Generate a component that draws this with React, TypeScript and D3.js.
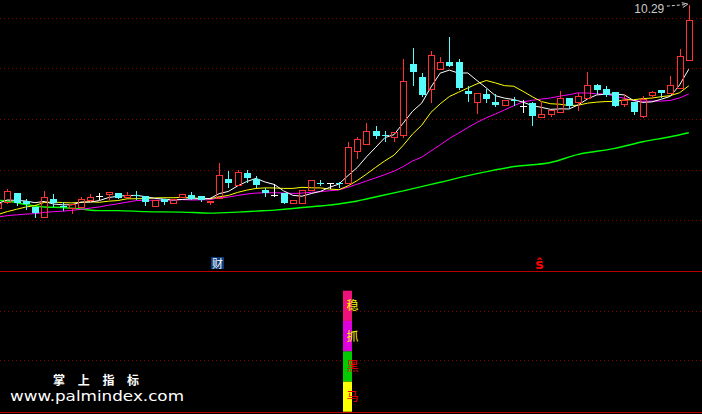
import React from 'react';
import * as d3 from 'd3';

const W = 702;
const H = 414;

// daily candles (first one is partially cut at the left edge)
const opens = [6.25, 6.36, 6.55, 6.39, 6.28, 6.08, 6.43, 6.30, 6.26, 6.28, 6.41, 6.49, 6.52, 6.55, 6.46, 6.51, 6.49, 6.30, 6.43, 6.35, 6.47,
  6.51, 6.49, 6.37, 6.45, 6.83, 6.70, 6.95, 6.83, 6.61, 6.51, 6.54, 6.35, 6.34, 6.61, 6.74, 6.74, 6.74, 6.74, 7.37, 7.51,
  7.78, 7.70, 7.65, 7.69, 9.10, 8.84, 8.61, 8.99, 9.13, 9.13, 8.57, 8.34, 8.51, 8.35, 8.28, 8.38, 8.27, 8.32, 8.05, 8.10,
  8.14, 8.42, 8.34, 8.42, 8.69, 8.61, 8.54, 8.30, 8.35, 8.06, 8.49, 8.59, 8.52, 8.62, 9.17];
const highs = [6.37, 6.64, 6.57, 6.45, 6.29, 6.61, 6.55, 6.39, 6.35, 6.49, 6.55, 6.57, 6.57, 6.55, 6.59, 6.61, 6.51, 6.40, 6.45, 6.45, 6.53,
  6.58, 6.49, 6.40, 7.16, 7.01, 7.02, 7.03, 6.91, 6.66, 6.74, 6.54, 6.41, 6.61, 6.83, 6.82, 6.77, 6.79, 7.57, 7.68, 7.95,
  7.90, 7.80, 7.75, 9.21, 9.44, 8.93, 9.38, 9.25, 9.65, 9.21, 8.69, 8.55, 8.62, 8.52, 8.39, 8.47, 8.40, 8.36, 8.39, 8.21,
  8.59, 8.42, 8.54, 8.96, 8.73, 8.69, 8.55, 8.52, 8.35, 8.49, 8.59, 8.59, 8.88, 9.41, 10.29];
const lows = [6.22, 6.35, 6.31, 6.24, 6.08, 6.08, 6.30, 6.22, 6.16, 6.28, 6.39, 6.43, 6.43, 6.45, 6.46, 6.43, 6.31, 6.30, 6.33, 6.35, 6.47,
  6.43, 6.38, 6.33, 6.45, 6.66, 6.70, 6.76, 6.66, 6.48, 6.49, 6.34, 6.35, 6.34, 6.61, 6.71, 6.65, 6.66, 6.74, 7.24, 7.51,
  7.63, 7.57, 7.58, 7.65, 8.69, 8.47, 8.34, 8.99, 9.06, 8.60, 8.36, 8.13, 8.34, 8.26, 8.28, 8.28, 8.14, 7.89, 8.05, 8.06,
  8.14, 8.23, 8.18, 8.42, 8.52, 8.47, 8.26, 8.26, 8.11, 8.05, 8.45, 8.45, 8.52, 8.62, 9.17];
const closes = [6.35, 6.59, 6.35, 6.33, 6.16, 6.47, 6.34, 6.27, 6.33, 6.43, 6.47, 6.49, 6.57, 6.45, 6.51, 6.48, 6.37, 6.40, 6.37, 6.43, 6.53,
  6.43, 6.41, 6.39, 6.91, 6.75, 6.97, 6.85, 6.70, 6.55, 6.51, 6.34, 6.41, 6.61, 6.81, 6.73, 6.74, 6.73, 7.45, 7.61, 7.78,
  7.68, 7.69, 7.75, 8.76, 8.93, 8.49, 9.27, 9.13, 9.06, 8.63, 8.51, 8.52, 8.41, 8.28, 8.39, 8.37, 8.27, 8.06, 8.11, 8.19,
  8.42, 8.26, 8.47, 8.69, 8.59, 8.49, 8.27, 8.39, 8.14, 8.40, 8.54, 8.53, 8.68, 9.26, 9.96];

// closes of the 19 sessions before the first drawn candle (for the moving averages)
const preCloses = [6.03, 6.05, 6.02, 5.98, 6.00, 6.04, 6.06, 6.03, 5.99, 6.01, 6.02, 5.90, 5.88, 5.87, 5.85, 6.25, 6.40, 6.38, 6.33];

// long moving average (green) at these candle indices
const longMaDays = [0, 1, 3, 5, 7, 9, 11, 13, 16, 20, 23, 26, 28, 30, 32, 33, 35, 36, 37, 38, 39, 40, 44, 48, 52, 56, 60, 63, 67, 70, 73, 75];
const longMaValues = [6.40, 6.39, 6.32, 6.27, 6.26, 6.23, 6.20, 6.20, 6.18, 6.17, 6.15, 6.17, 6.19, 6.21, 6.24, 6.26, 6.29, 6.31, 6.33, 6.36, 6.39, 6.43, 6.59, 6.76, 6.93, 7.07, 7.15, 7.31, 7.43, 7.56, 7.66, 7.74];

const gridPrices = [6, 7, 8, 9, 10];
const highLabel = '10.29';
const highDay = 75;

const markerCaiDay = 24;
const markerCaiText = '财';
const markerSDay = 59;
const markerSText = 'ŝ';

const signalDay = 38;
const signalLabels = ['马', '黑', '抓', '稳']; // bottom to top
const subGrid = [1.69, 3.31];

const watermarkTitle = ['掌', '上', '指', '标'];
const watermarkUrl = 'www.palmindex.com';

const RED = '#ff3232';
const CYAN = '#54fcfc';
const GRID = '#8a0000';
const SEP = '#b80000';
const segColors = ['#ffff00', '#00cc00', '#dd00dd', '#f0107a'];
const segTextColors = ['#ff0000', '#ff0000', '#ffff00', '#ffff00'];

const allCloses = [...preCloses, ...closes];
function movingAverage(n: number): number[] {
  return closes.map((_, k) => {
    const end = k + preCloses.length;
    return d3.mean(allCloses.slice(end - n + 1, end + 1)) as number;
  });
}

export default function App() {
  const x = d3.scaleLinear().domain([0, 75]).range([-1.9, 688.8]);
  const y = d3.scaleLinear().domain([6, 10]).range([220.7, 18.3]);
  const sub = d3.scaleLinear().domain([0, 4]).range([411.7, 290.7]);

  const ma5 = movingAverage(5);
  const ma10 = movingAverage(10);
  const ma20 = movingAverage(20);

  const line = d3.line<number>().x((_, i) => x(i)).y((v) => y(v));
  const longLine = d3
    .line<number>()
    .x((_, i) => x(longMaDays[i]))
    .y((v) => y(v))
    .curve(d3.curveMonotoneX);

  const px = (v: number) => Math.round(v) + 0.5;

  const candles = closes.map((c, k) => {
    const o = opens[k];
    const cx = px(x(k));
    const yh = px(y(highs[k]));
    const yl = px(y(lows[k]));
    if (c > o) {
      const top = px(y(c));
      const bot = px(y(o));
      return (
        <g key={k} stroke={RED} fill="none">
          <line x1={cx} x2={cx} y1={yh} y2={top} />
          <line x1={cx} x2={cx} y1={bot} y2={yl} />
          <rect x={cx - 3} y={top} width={6} height={Math.max(1, bot - top)} />
        </g>
      );
    } else if (c < o) {
      const top = Math.round(y(o));
      const bot = Math.round(y(c));
      return (
        <g key={k}>
          <line x1={cx} x2={cx} y1={yh} y2={yl} stroke={CYAN} />
          <rect x={cx - 3.5} y={top} width={7} height={Math.max(1, bot - top)} fill={CYAN} />
        </g>
      );
    }
    const yo = px(y(o));
    return (
      <g key={k} stroke="#ffffff">
        <line x1={cx} x2={cx} y1={yh} y2={yl} />
        <line x1={cx - 3.5} x2={cx + 3.5} y1={yo} y2={yo} />
      </g>
    );
  });

  const hx = x(highDay);
  const hy = y(highs[highDay]);
  const caiX = Math.round(x(markerCaiDay)) - 8;
  const sigX = Math.round(x(signalDay));

  return (
    <svg
      width={W}
      height={H}
      style={{ position: 'absolute', left: 0, top: 0, display: 'block' }}
      fontFamily="'Liberation Sans', Arial, sans-serif"
    >
      <rect x={0} y={0} width={W} height={H} fill="#000000" />
      {gridPrices.map((p) => (
        <line key={p} x1={0} x2={W} y1={Math.floor(y(p)) + 0.5} y2={Math.floor(y(p)) + 0.5} stroke={GRID} strokeDasharray="1 3" shapeRendering="crispEdges" />
      ))}
      {subGrid.map((v) => (
        <line key={v} x1={0} x2={W} y1={Math.floor(sub(v)) + 0.5} y2={Math.floor(sub(v)) + 0.5} stroke={GRID} strokeDasharray="1 3" shapeRendering="crispEdges" />
      ))}
      <line x1={0} x2={W} y1={271.5} y2={271.5} stroke={SEP} />
      <line x1={0} x2={W} y1={412.5} y2={412.5} stroke={SEP} />

      <path d={longLine(longMaValues) || ''} fill="none" stroke="#00ff00" strokeWidth={1.4} />
      <path d={line(ma20) || ''} fill="none" stroke="#ff00ff" strokeWidth={1} />
      <path d={line(ma10) || ''} fill="none" stroke="#ffff00" strokeWidth={1} />
      <path d={line(ma5) || ''} fill="none" stroke="#ffffff" strokeWidth={1} />

      <g shapeRendering="crispEdges">{candles}</g>

      <text x={hx - 24.5} y={hy + 9} fontSize={13} fill="#c8c8c8" textAnchor="end" textLength={30} lengthAdjust="spacingAndGlyphs">
        {highLabel}
      </text>
      <path d={`M${hx - 22},${hy + 2.5} L${hx - 4},${hy + 1}`} stroke="#d0d0d0" strokeDasharray="3 2" fill="none" />
      <path d={`M${hx - 7},${hy - 1} L${hx - 1},${hy + 0.5} L${hx - 6},${hy + 4}`} stroke="#d0d0d0" fill="none" />

      <rect x={caiX} y={257} width={13} height={12} fill="#0c3a78" />
      <text x={caiX + 6.5} y={267.5} fontSize={11} fill="#ffffff" textAnchor="middle" fontFamily="'Noto Sans CJK SC', sans-serif">
        {markerCaiText}
      </text>
      <text x={x(markerSDay) - 2} y={269} fontSize={14} fontWeight="bold" fill="#ff0000" textAnchor="middle" fontFamily="'DejaVu Sans', sans-serif">
        {markerSText}
      </text>

      {signalLabels.map((t, i) => (
        <g key={t}>
          <rect x={sigX - 5} y={sub(i + 1)} width={9} height={sub(i) - sub(i + 1)} fill={segColors[i]} />
          <text
            x={sigX + 4.5}
            y={(sub(i) + sub(i + 1)) / 2 + 4.5}
            fontSize={12}
            fill={segTextColors[i]}
            textAnchor="middle"
            fontFamily="'Noto Sans CJK SC', sans-serif"
          >
            {t}
          </text>
        </g>
      ))}

      {watermarkTitle.map((t, i) => (
        <text key={t} x={59 + i * 24.7} y={385} fontSize={12} fontWeight="bold" fill="#ffffff" textAnchor="middle" fontFamily="'Noto Sans CJK SC', sans-serif">
          {t}
        </text>
      ))}
      <text x={10} y={401} fontSize={14} fill="#ffffff" textLength={174} lengthAdjust="spacingAndGlyphs" fontFamily="'DejaVu Sans', Verdana, sans-serif">
        {watermarkUrl}
      </text>
    </svg>
  );
}
